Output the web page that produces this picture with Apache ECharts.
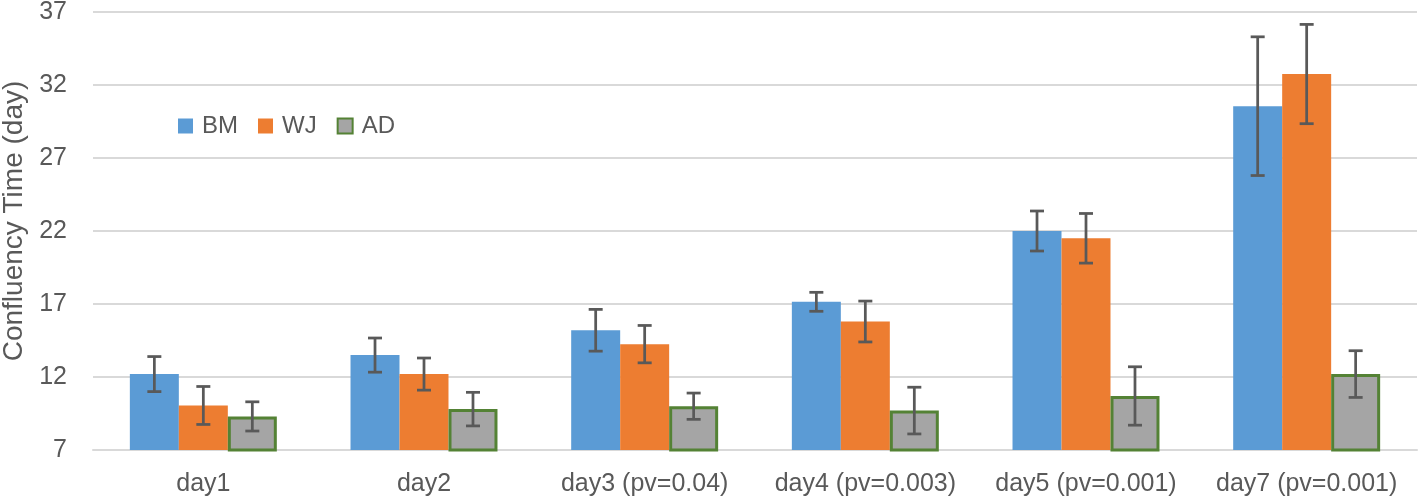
<!DOCTYPE html>
<html>
<head>
<meta charset="utf-8">
<script src="https://cdn.jsdelivr.net/npm/echarts@6/dist/echarts.min.js"></script>
<style>html,body{margin:0;padding:0;background:#fff}#c{width:1424px;height:500px}</style>
</head>
<body>
<div id="c"></div>
<script>
var categories = ['day1', 'day2', 'day3 (pv=0.04)', 'day4 (pv=0.003)', 'day5 (pv=0.001)', 'day7 (pv=0.001)'];
var seriesNames = ['BM', 'WJ', 'AD'];
var bmValues = [12.2, 13.5, 15.2, 17.15, 22.0, 30.55];
var wjValues = [10.05, 12.2, 14.25, 15.8, 21.5, 32.75];
var adValues = [9.3, 9.8, 10.0, 9.7, 10.7, 12.2];
var bmErr = [1.2, 1.17, 1.43, 0.65, 1.37, 4.75];
var wjErr = [1.3, 1.1, 1.28, 1.4, 1.7, 3.4];
var adErr = [1.0, 1.15, 0.9, 1.6, 2.0, 1.6];
var yTicks = [7, 12, 17, 22, 27, 32, 37];

var FONT = '"Liberation Sans", Arial, sans-serif';
var TXT = '#595959';
var CAT_GAP = 0.334;

var values = [bmValues, wjValues, adValues];
var errs = [bmErr, wjErr, adErr];
var errData = [];
for (var s = 0; s < 3; s++) {
  for (var i = 0; i < categories.length; i++) {
    errData.push([i, values[s][i] - errs[s][i], values[s][i] + errs[s][i], s]);
  }
}

var chart = echarts.init(document.getElementById('c'));
chart.setOption({
  animation: false,
  backgroundColor: '#fff',
  grid: { left: 93, right: 7, top: 12, bottom: 50, containLabel: false, outerBoundsMode: 'none' },
  legend: {
    data: seriesNames,
    icon: 'rect',
    left: 178, top: 114, padding: 0,
    itemWidth: 15, itemHeight: 15, itemGap: 20,
    textStyle: { fontFamily: FONT, fontSize: 24, color: TXT, padding: [0, 0, 0, 4] }
  },
  xAxis: {
    type: 'category',
    data: categories,
    axisLine: { show: true, lineStyle: { color: '#D9D9D9', width: 2 } },
    axisTick: { show: false },
    axisLabel: { fontFamily: FONT, fontSize: 25, color: TXT, margin: 22, interval: 0 }
  },
  yAxis: {
    type: 'value',
    min: yTicks[0], max: yTicks[yTicks.length - 1], interval: yTicks[1] - yTicks[0],
    name: 'Confluency Time (day)',
    nameLocation: 'middle',
    nameGap: 64,
    nameTextStyle: { fontFamily: FONT, fontSize: 28, color: TXT, padding: [0, 0, 0, 20] },
    axisLine: { show: false },
    axisTick: { show: false },
    axisLabel: { fontFamily: FONT, fontSize: 25, color: TXT, margin: 26 },
    splitLine: { lineStyle: { color: '#D9D9D9', width: 2 } }
  },
  series: [
    { name: 'BM', type: 'bar', data: bmValues, barGap: '0%', barCategoryGap: (CAT_GAP * 100) + '%',
      itemStyle: { color: '#5B9BD5' } },
    { name: 'WJ', type: 'bar', data: wjValues, barGap: '0%', barCategoryGap: (CAT_GAP * 100) + '%',
      itemStyle: { color: '#ED7D31' } },
    { name: 'AD', type: 'bar', data: adValues, barGap: '0%', barCategoryGap: (CAT_GAP * 100) + '%',
      itemStyle: { color: '#A5A5A5', borderColor: '#548235', borderWidth: 3 } },
    { name: 'err', type: 'custom', data: errData, z: 10,
      encode: { x: 0, y: [1, 2] },
      renderItem: function (params, api) {
        var ci = api.value(0), lo = api.value(1), hi = api.value(2), si = api.value(3);
        var catW = api.size([1, 0])[0];
        var bw = catW * (1 - CAT_GAP) / 3;
        var pLo = api.coord([ci, lo]);
        var pHi = api.coord([ci, hi]);
        var x = pLo[0] + (si - 1) * bw;
        var cap = 7;
        var st = { stroke: '#595959', lineWidth: 2.75 };
        return { type: 'group', children: [
          { type: 'line', shape: { x1: x, y1: pLo[1], x2: x, y2: pHi[1] }, style: st },
          { type: 'line', shape: { x1: x - cap, y1: pLo[1], x2: x + cap, y2: pLo[1] }, style: st },
          { type: 'line', shape: { x1: x - cap, y1: pHi[1], x2: x + cap, y2: pHi[1] }, style: st }
        ] };
      }
    }
  ]
});
</script>
</body>
</html>
